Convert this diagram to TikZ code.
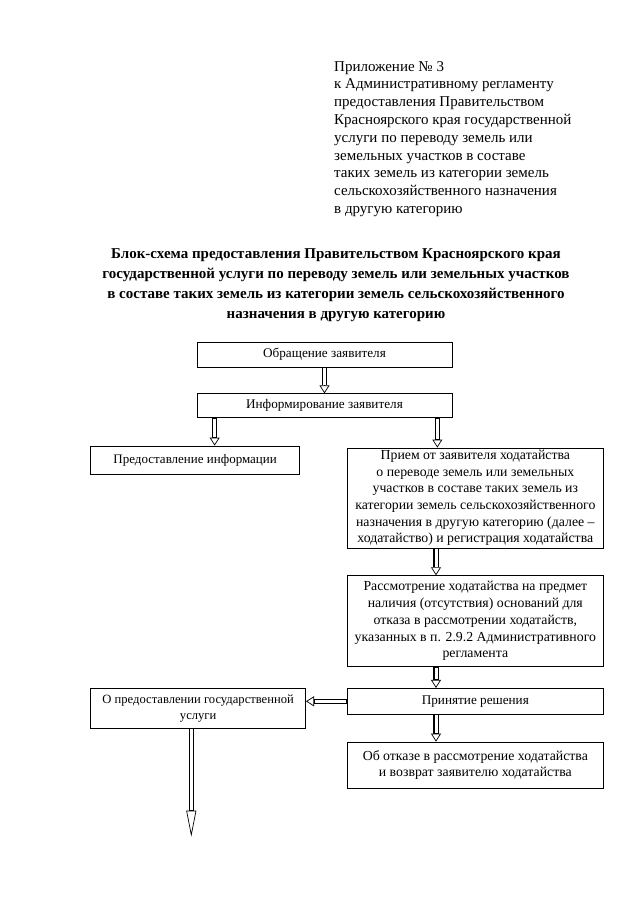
\documentclass[tikz,border=0pt]{standalone}
\usepackage{fontspec}
\setmainfont{Liberation Serif}
\usetikzlibrary{arrows.meta, positioning}
\tikzstyle{blok}=[draw, line width=0.7pt, inner sep=0pt, align=center, font=\fontsize{13.8}{16.7}\selectfont]
\tikzstyle{strelka}=[preaction={draw, line width=5.4pt, shorten >=8pt},
  postaction={draw, line width=0.7pt, -{Triangle[open, length=8pt, width=10pt]}},
  postaction={draw=white, line width=3pt, shorten >=8.5pt, shorten <=0.6pt}]
\tikzstyle{dlinnaya}=[preaction={draw, line width=5.4pt, shorten >=26pt},
  postaction={draw, line width=0.7pt, -{Triangle[open, length=26pt, width=10pt]}},
  postaction={draw=white, line width=3pt, shorten >=26.5pt, shorten <=0.6pt}]

\begin{document}
\begin{tikzpicture}[x=1pt, y=-1pt]
  \useasboundingbox (0,0) rectangle (640,905);
  \node[anchor=north west, align=left, inner sep=0pt, font=\fontsize{15}{17.8}\selectfont] (pril) at (334,61)
    {Приложение № 3\\к Административному регламенту\\предоставления Правительством\\Красноярского края государственной\\услуги по переводу земель или\\земельных участков в составе\\таких земель из категории земель\\сельскохозяйственного назначения\\в другую категорию};
  \node[anchor=north, align=center, inner sep=0pt, font=\fontsize{15}{20}\selectfont\bfseries] (zagl) at (336,248)
    {Блок-схема предоставления Правительством Красноярского края\\государственной услуги по переводу земель или земельных участков\\в составе таких земель из категории земель сельскохозяйственного\\назначения в другую категорию};
  \node[blok, minimum width=255pt, minimum height=25pt, font=\fontsize{13.2}{16}\selectfont] (obr) at (324.5,354.5) {Обращение заявителя};
  \node[blok, minimum width=255pt, minimum height=24pt, font=\fontsize{13.2}{16}\selectfont] (inf) [below=26pt of obr] {Информирование заявителя};
  \node[blok, minimum width=209pt, minimum height=28pt, font=\fontsize{13}{16}\selectfont] (pred) [below=27.5pt of inf.south west, xshift=-1.5pt] {Предоставление информации};
  \node[blok, minimum width=256pt, minimum height=100pt] (priem) [below=29.5pt of inf.south east, xshift=23pt]
    {Прием от заявителя ходатайства\\о переводе земель или земельных\\участков в составе таких земель из\\категории земель сельскохозяйственного\\назначения в другую категорию (далее –\\ходатайство) и регистрация ходатайства};
  \node[blok, minimum width=256pt, minimum height=91pt] (rassm) [below=27pt of priem]
    {Рассмотрение ходатайства на предмет\\наличия (отсутствия) оснований для\\отказа в рассмотрении ходатайств,\\указанных в п. 2.9.2 Административного\\регламента};
  \node[blok, minimum width=256pt, minimum height=26pt, font=\fontsize{13.2}{16}\selectfont] (prin) [below=21pt of rassm] {Принятие решения};
  \node[blok, minimum width=256pt, minimum height=46pt] (otkaz) [below=27pt of prin]
    {Об отказе в рассмотрение ходатайства\\и возврат заявителю ходатайства};
  \node[blok, minimum width=215pt, minimum height=40pt, font=\fontsize{12.6}{16.5}\selectfont] (opred) [left=41pt of prin.north west, anchor=north east]
    {О предоставлении государственной\\услуги};
  \coordinate (konec) at ([xshift=101pt, yshift=-108pt]opred.south west);
  \path[strelka] (obr) -- (inf);
  \path[strelka] ([xshift=18pt]inf.south west) -- ([xshift=18pt]inf.south west |- pred.north);
  \path[strelka] ([xshift=-15pt]inf.south east) -- ([xshift=-15pt]inf.south east |- priem.north);
  \path[strelka] ([xshift=89pt]priem.south west) -- ([xshift=89pt]priem.south west |- rassm.north);
  \path[strelka] ([xshift=89pt]rassm.south west) -- ([xshift=89pt]rassm.south west |- prin.north);
  \path[strelka] ([xshift=89pt]prin.south west) -- ([xshift=89pt]prin.south west |- otkaz.north);
  \path[strelka] (prin.west) -- (prin.west -| opred.east);
  \path[dlinnaya] ([xshift=101pt]opred.south west) -- (konec);
\end{tikzpicture}
\end{document}
